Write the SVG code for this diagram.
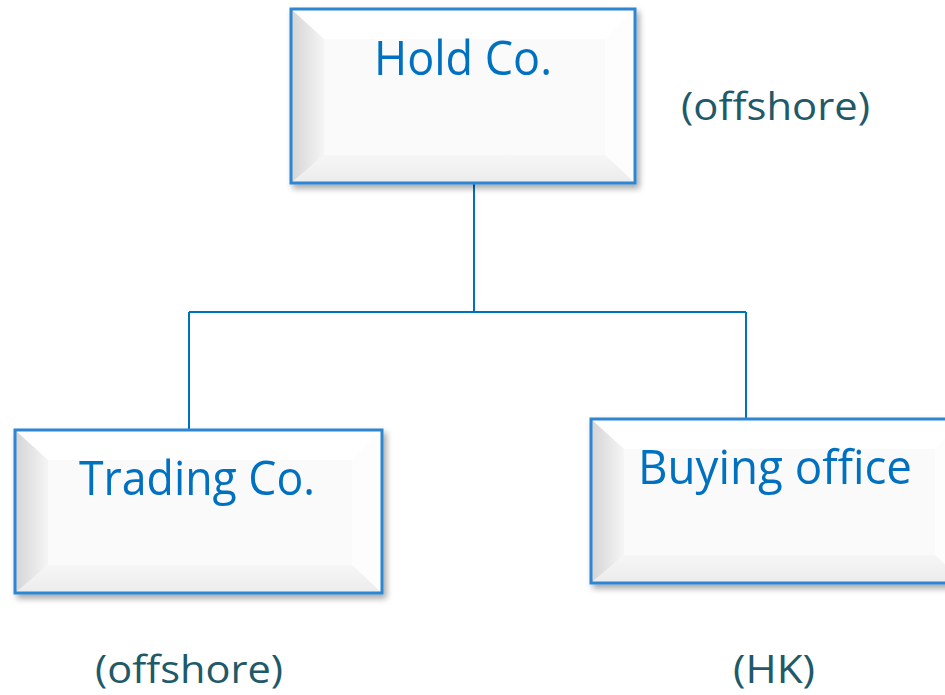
<svg xmlns="http://www.w3.org/2000/svg" width="945" height="695" viewBox="0 0 945 695">
<defs>
<linearGradient id="gl" x1="0" y1="0" x2="1" y2="0"><stop offset="0" stop-color="#D4D4D4"/><stop offset="1" stop-color="#F5F5F5"/></linearGradient>
<linearGradient id="gb" x1="0" y1="0" x2="0" y2="1"><stop offset="0" stop-color="#F6F6F6"/><stop offset="1" stop-color="#ECECEC"/></linearGradient>
<filter id="sh" x="-10%" y="-10%" width="130%" height="130%"><feGaussianBlur in="SourceAlpha" stdDeviation="3"/><feOffset dx="3" dy="4"/><feComponentTransfer><feFuncA type="linear" slope="0.35"/></feComponentTransfer><feMerge><feMergeNode/><feMergeNode in="SourceGraphic"/></feMerge></filter>
</defs>
<style>
.face{fill:#FAFAFA}
.top{fill:#FFFFFF}
.rt{fill:#FDFDFD}
.lf{fill:url(#gl)}
.bt{fill:url(#gb)}
.bd{fill:none;stroke:#2F86D2;stroke-width:3}
.lbl{font-family:"Open Sans","Noto Sans",sans-serif;fill:#0070C0;text-anchor:middle}
.sub{font-family:"Open Sans","Noto Sans",sans-serif;fill:#215968;font-size:38px}
.con{fill:none;stroke:#0070C0;stroke-width:2}
</style>
<rect width="945" height="695" fill="#FFFFFF"/>
<g id="connectors">
<path class="con" d="M474 183 V312 M189 312 H746 M189 312 V430 M746 312 V419"/>
</g>
<g id="hold" filter="url(#sh)">
<rect class="face" x="291" y="9" width="344" height="174"/>
<polygon class="top" points="291,9 635,9 605,39 324,39"/>
<polygon class="rt" points="635,9 635,183 605,155 605,39"/>
<polygon class="bt" points="291,183 635,183 605,155 324,155"/>
<polygon class="lf" points="291,9 324,39 324,155 291,183"/>
<rect class="bd" x="291" y="9" width="344" height="174"/>
<text class="lbl" x="463" y="75" font-size="48" textLength="178" lengthAdjust="spacingAndGlyphs">Hold Co.</text>
</g>
<g id="trading" filter="url(#sh)">
<rect class="face" x="15" y="430" width="367" height="163"/>
<polygon class="top" points="15,430 382,430 352,460 48,460"/>
<polygon class="rt" points="382,430 382,593 352,565 352,460"/>
<polygon class="bt" points="15,593 382,593 352,565 48,565"/>
<polygon class="lf" points="15,430 48,460 48,565 15,593"/>
<rect class="bd" x="15" y="430" width="367" height="163"/>
<text class="lbl" x="197" y="495" font-size="48" textLength="236" lengthAdjust="spacingAndGlyphs">Trading Co.</text>
</g>
<g id="buying" filter="url(#sh)">
<rect class="face" x="591" y="419" width="374" height="164"/>
<polygon class="top" points="591,419 965,419 935,449 624,449"/>
<polygon class="rt" points="965,419 965,583 935,555 935,449"/>
<polygon class="bt" points="591,583 965,583 935,555 624,555"/>
<polygon class="lf" points="591,419 624,449 624,555 591,583"/>
<rect class="bd" x="591" y="419" width="374" height="164"/>
<text class="lbl" x="775" y="484" font-size="48" textLength="274" lengthAdjust="spacingAndGlyphs">Buying office</text>
</g>
<g id="labels">
<text class="sub" x="681" y="120" textLength="189" lengthAdjust="spacingAndGlyphs">(offshore)</text>
<text class="sub" x="95" y="683" textLength="188" lengthAdjust="spacingAndGlyphs">(offshore)</text>
<text class="sub" x="733" y="683" textLength="82" lengthAdjust="spacingAndGlyphs">(HK)</text>
</g>
</svg>
